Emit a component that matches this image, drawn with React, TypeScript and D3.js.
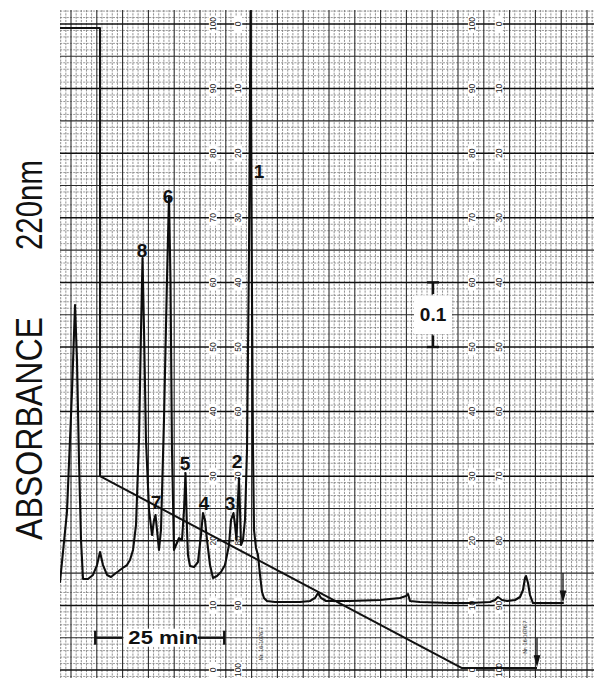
import React from "react";
import * as d3 from "d3";

const W = 594;
const H = 678;

// Chromatogram trace: time (min) and absorbance (% of full scale, 100% = 1.0 AU)
const traceTime = [
  -2.13, -0.78, 0.19, 0.78, 1.16, 1.55, 1.94, 2.33, 3.29, 4.26, 5.04, 5.62, 6.2, 6.98, 7.75, 8.72, 9.5, 10.27,
  10.85, 11.43, 12.02, 12.6, 13.18, 13.57, 13.86, 14.15, 14.53, 15.12, 15.7, 16.09, 16.38, 16.67, 17.05, 17.44,
  18.02, 18.6, 18.99, 19.28, 19.57, 19.96, 20.35, 20.93, 21.51, 21.9, 22.19, 22.48, 22.67, 23.06, 23.84, 24.61,
  25.19, 25.58, 25.97, 26.36, 26.94, 27.52, 28.29, 29.07, 29.84, 30.62, 31.01, 31.49, 31.78, 32.07, 32.36, 32.56,
  32.75, 32.95, 33.33, 33.72, 34.11, 34.5, 34.79, 35.08, 35.27, 35.47, 35.85, 36.24, 36.63, 37.02, 37.4, 37.98,
  39.53, 44.38, 46.32, 47.29, 47.87, 48.45, 49.42, 54.07, 59.88, 63.76, 64.92, 65.31, 65.7, 67.64, 73.45, 77.33,
  81.2, 82.17, 82.75, 83.53, 84.5, 86.05, 87.02, 87.6, 87.98, 88.18, 88.57, 88.95, 89.53, 95.35,
];
const tracePct = [
  13.62, 24.46, 43.03, 56.5, 47.99, 32.51, 20.12, 14.09, 14.09, 14.71, 16.25, 18.27, 16.25, 14.71, 14.4, 15.02,
  15.48, 15.94, 16.25, 17.03, 18.58, 22.45, 35.6, 52.63, 63.78, 52.63, 35.6, 24.77, 20.9, 23.22, 23.99, 21.67,
  18.58, 21.67, 38.7, 60.37, 73.22, 60.37, 34.06, 18.58, 19.35, 20.43, 20.12, 24.77, 30.5, 21.67, 17.8, 16.1,
  15.94, 16.72, 20.9, 24.3, 23.22, 20.12, 16.25, 14.24, 14.55, 15.17, 16.25, 19.35, 23.22, 24.3, 22.45, 20.12,
  26.32, 29.72, 24.77, 19.35, 20.12, 23.22, 34.06, 65.02, 102, 57.28, 34.06, 21.67, 18.89, 17.8, 14.71, 12.07,
  11.15, 10.68, 10.53, 10.53, 10.68, 11.15, 11.92, 11.15, 10.68, 10.68, 10.84, 11.15, 11.46, 11.76, 10.68, 10.53,
  10.37, 10.37, 10.53, 10.84, 11.3, 10.84, 10.68, 10.84, 11.3, 12.38, 14.24, 14.55, 13.47, 11.61, 10.37, 10.37,
];

// Gradient pen
const gradTime = [-2.13, 5.62, 5.62, 75.78, 90.31];
const gradPct = [99.4, 99.4, 30.0, 0.3, 0.3];

// Peak numbers
const peakLabels = ["1", "2", "3", "4", "5", "6", "7", "8"];
const peakLabelTime = [36.43, 32.17, 30.81, 25.78, 22.09, 18.8, 16.47, 13.76];
const peakLabelPct = [77.1, 32.2, 25.85, 25.85, 32.04, 73.37, 26.0, 65.0];

// Chart paper printed scale
const paperTicks = [0, 10, 20, 30, 40, 50, 60, 70, 80, 90, 100];
const paperLabelCols = [27.5, 32.4, 77.7, 82.9];
const paperLabelReversed = [false, true, false, true];

// Scale bars
const absBarTime = 70.16;
const absBarPct = [50, 60];
const absBarText = "0.1";
const timeBarTime = [4.7, 29.7];
const timeBarPct = 5;
const timeBarText = "25 min";

const serialText = "Nr. 16-1076 7";
const serialTimes = [37.2, 88.3];

export default function App() {
  const x = d3.scaleLinear().domain([0, 100]).range([71, 587]);
  const y = d3.scaleLinear().domain([0, 100]).range([670, 24]);
  const paperL = 60,
    paperT = 10,
    paperR = W,
    paperB = H;

  const tMin = Math.ceil(x.invert(paperL));
  const tMax = Math.floor(x.invert(paperR));
  const pMin = Math.ceil(y.invert(paperB));
  const pMax = Math.floor(y.invert(paperT));
  const vLines = d3.range(tMin, tMax + 1);
  const hLines = d3.range(pMin, pMax + 1);

  const line = d3
    .line<[number, number]>()
    .x((d) => x(d[0]))
    .y((d) => y(d[1]));
  const tracePath = line(traceTime.map((t, i) => [t, tracePct[i]]) as [number, number][]) || "";
  const gradPath = line(gradTime.map((t, i) => [t, gradPct[i]]) as [number, number][]) || "";

  const font = "'Liberation Sans', Arial, Helvetica, sans-serif";

  return (
    <div style={{ position: "absolute", left: 0, top: 0 }}>
      <svg width={W} height={H} viewBox={`0 0 ${W} ${H}`} style={{ display: "block", background: "#fff" }}>
        <defs>
          <clipPath id="paper">
            <rect x={paperL} y={paperT} width={paperR - paperL} height={paperB - paperT} />
          </clipPath>
        </defs>
        <rect x={0} y={0} width={W} height={H} fill="#fff" />
        <g clipPath="url(#paper)">
          {/* minor grid */}
          {vLines
            .filter((t) => t % 5 !== 0)
            .map((t) => (
              <line key={"vm" + t} x1={x(t)} x2={x(t)} y1={paperT} y2={paperB} stroke="#6f6f6f" strokeWidth={0.75} strokeDasharray="2.2 1.1" />
            ))}
          {hLines
            .filter((p) => p % 5 !== 0)
            .map((p) => (
              <line key={"hm" + p} x1={paperL} x2={paperR} y1={y(p)} y2={y(p)} stroke="#7a7a7a" strokeWidth={0.75} strokeDasharray="2.2 1.1" />
            ))}
          {/* medium/major grid */}
          {vLines
            .filter((t) => t % 5 === 0)
            .map((t) => (
              <line key={"vM" + t} x1={x(t)} x2={x(t)} y1={paperT} y2={paperB} stroke="#2a2a2a" strokeWidth={1.1} />
            ))}
          {hLines
            .filter((p) => p % 5 === 0)
            .map((p) => (
              <line
                key={"hM" + p}
                x1={paperL}
                x2={paperR}
                y1={y(p)}
                y2={y(p)}
                stroke={p % 10 === 0 ? "#111" : "#2a2a2a"}
                strokeWidth={p % 10 === 0 ? 1.5 : 1.1}
              />
            ))}
          {/* printed paper scale labels */}
          {paperLabelCols.map((t, ci) =>
            paperTicks.map((p) => (
              <g key={"pl" + ci + "-" + p} transform={`translate(${x(t)},${y(p)}) rotate(-90)`}>
                <rect x={-8} y={-4} width={16} height={8} fill="#fff" />
                <text x={0} y={0} textAnchor="middle" dominantBaseline="central" fontFamily={font} fontSize={8.5} fill="#222">
                  {paperLabelReversed[ci] ? 100 - p : p}
                </text>
              </g>
            ))
          )}
          {/* gradient pen */}
          <path d={gradPath} fill="none" stroke="#111" strokeWidth={2} strokeLinejoin="round" />
          {/* chromatogram */}
          <path d={tracePath} fill="none" stroke="#0d0d0d" strokeWidth={2.1} strokeLinejoin="round" strokeLinecap="round" />
          {/* end arrows */}
          <g stroke="#111" strokeWidth={1.3} fill="#111">
            <line x1={x(95.35)} x2={x(95.35)} y1={y(15)} y2={y(11)} />
            <path d={`M${x(95.35) - 2.5},${y(12.2)} L${x(95.35) + 2.5},${y(12.2)} L${x(95.35)},${y(10.8)} Z`} />
            <line x1={x(90.31)} x2={x(90.31)} y1={y(5)} y2={y(1)} />
            <path d={`M${x(90.31) - 2.5},${y(2.2)} L${x(90.31) + 2.5},${y(2.2)} L${x(90.31)},${y(0.8)} Z`} />
          </g>
          {/* serial number prints */}
          {serialTimes.map((t, i) => (
            <text
              key={"sn" + i}
              transform={`translate(${x(t)},${y(i === 0 ? 1.5 : 2.5)}) rotate(-90)`}
              fontFamily={font}
              fontSize={5.5}
              fill="#333"
            >
              {serialText}
            </text>
          ))}
          {/* 0.1 AU bar */}
          <rect x={x(absBarTime) - 19} y={y(58)} width={38} height={y(52) - y(58)} fill="#fff" />
          <g stroke="#111" strokeWidth={2.4}>
            <line x1={x(absBarTime)} x2={x(absBarTime)} y1={y(absBarPct[1])} y2={y(58.2)} />
            <line x1={x(absBarTime)} x2={x(absBarTime)} y1={y(51.8)} y2={y(absBarPct[0])} />
            <line x1={x(absBarTime) - 6} x2={x(absBarTime) + 6} y1={y(absBarPct[1])} y2={y(absBarPct[1])} />
            <line x1={x(absBarTime) - 6} x2={x(absBarTime) + 6} y1={y(absBarPct[0])} y2={y(absBarPct[0])} />
          </g>
          <text
            x={x(absBarTime)}
            y={y((absBarPct[0] + absBarPct[1]) / 2)}
            textAnchor="middle"
            dominantBaseline="central"
            fontFamily={font}
            fontWeight="bold"
            fontSize={19}
            fill="#111"
          >
            {absBarText}
          </text>
          {/* 25 min bar */}
          <rect x={x(10.2)} y={y(timeBarPct) - 9} width={x(24.5) - x(10.2)} height={18} fill="#fff" />
          <g stroke="#111" strokeWidth={2.4}>
            <line x1={x(timeBarTime[0])} x2={x(9.9)} y1={y(timeBarPct)} y2={y(timeBarPct)} />
            <line x1={x(24.6)} x2={x(timeBarTime[1])} y1={y(timeBarPct)} y2={y(timeBarPct)} />
            <line x1={x(timeBarTime[0])} x2={x(timeBarTime[0])} y1={y(timeBarPct) - 7} y2={y(timeBarPct) + 7} />
            <line x1={x(timeBarTime[1])} x2={x(timeBarTime[1])} y1={y(timeBarPct) - 7} y2={y(timeBarPct) + 7} />
          </g>
          <text
            x={x(17.9)}
            y={y(timeBarPct)}
            textAnchor="middle"
            dominantBaseline="central"
            fontFamily={font}
            fontWeight="bold"
            fontSize={18}
            textLength={70}
            lengthAdjust="spacingAndGlyphs"
            fill="#111"
          >
            {timeBarText}
          </text>
          {/* peak numbers */}
          {peakLabels.map((lab, i) => (
            <text
              key={"pk" + lab}
              x={x(peakLabelTime[i])}
              y={y(peakLabelPct[i])}
              textAnchor="middle"
              dominantBaseline="central"
              fontFamily={font}
              fontWeight="bold"
              fontSize={19}
              fill="#111"
            >
              {lab}
            </text>
          ))}
        </g>
        {/* axis title */}
        <text
          transform="translate(42,540) rotate(-90)"
          fontFamily={font}
          fontSize={37}
          textLength={223}
          lengthAdjust="spacingAndGlyphs"
          fill="#111"
        >
          ABSORBANCE
        </text>
        <text
          transform="translate(42,250) rotate(-90)"
          fontFamily={font}
          fontSize={37}
          textLength={90}
          lengthAdjust="spacingAndGlyphs"
          fill="#111"
        >
          220nm
        </text>
      </svg>
    </div>
  );
}
